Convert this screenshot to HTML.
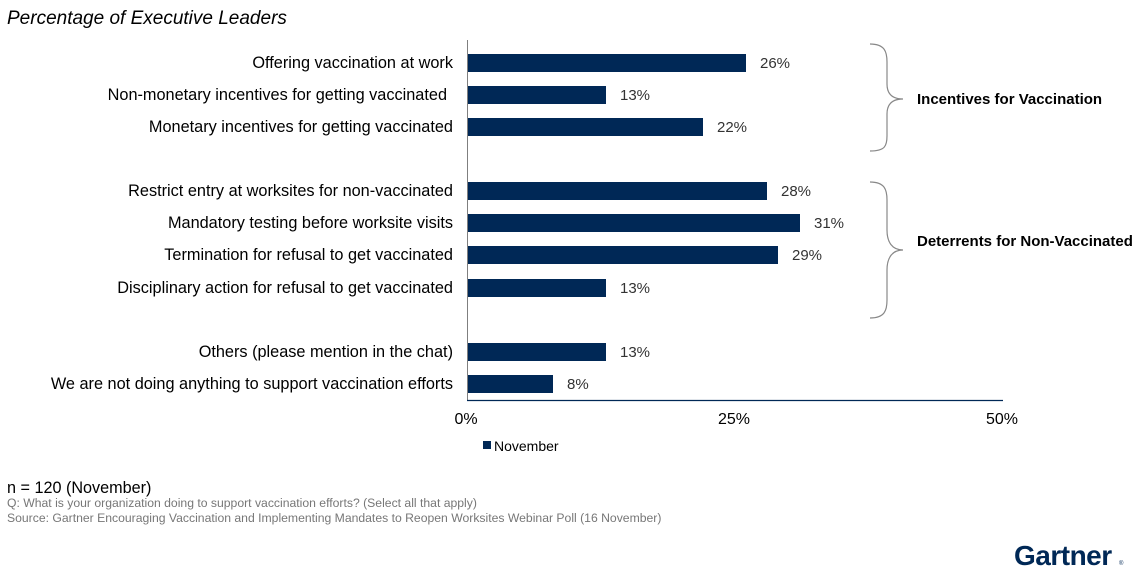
<!DOCTYPE html>
<html><head><meta charset="utf-8"><style>
html,body{margin:0;padding:0;background:#fff;}
svg{display:block;font-family:"Liberation Sans",Arial,sans-serif;}
</style></head><body>
<svg width="1146" height="578" viewBox="0 0 1146 578" xmlns="http://www.w3.org/2000/svg">
<text x="7" y="24" font-size="19" font-style="italic" fill="#000">Percentage of Executive Leaders</text>
<g font-size="16.3" fill="#000" text-anchor="end">
<text x="453" y="68">Offering vaccination at work</text>
<text x="447" y="100">Non-monetary incentives for getting vaccinated</text>
<text x="453" y="132">Monetary incentives for getting vaccinated</text>
<text x="453" y="196">Restrict entry at worksites for non-vaccinated</text>
<text x="453" y="228">Mandatory testing before worksite visits</text>
<text x="453" y="260">Termination for refusal to get vaccinated</text>
<text x="453" y="293">Disciplinary action for refusal to get vaccinated</text>
<text x="453" y="357">Others (please mention in the chat)</text>
<text x="453" y="389">We are not doing anything to support vaccination efforts</text>
</g>
<g fill="#002856">
<rect x="467" y="54" width="279" height="18"/>
<rect x="467" y="86" width="139" height="18"/>
<rect x="467" y="118" width="236" height="18"/>
<rect x="467" y="182" width="300" height="18"/>
<rect x="467" y="214" width="333" height="18"/>
<rect x="467" y="246" width="311" height="18"/>
<rect x="467" y="279" width="139" height="18"/>
<rect x="467" y="343" width="139" height="18"/>
<rect x="467" y="375" width="86" height="18"/>
</g>
<g font-size="15" fill="#333">
<text x="760" y="68">26%</text>
<text x="620" y="100">13%</text>
<text x="717" y="132">22%</text>
<text x="781" y="196">28%</text>
<text x="814" y="228">31%</text>
<text x="792" y="260">29%</text>
<text x="620" y="293">13%</text>
<text x="620" y="357">13%</text>
<text x="567" y="389">8%</text>
</g>
<line x1="467.5" y1="40" x2="467.5" y2="400" stroke="#7f7f7f" stroke-width="1"/>
<line x1="467" y1="400.5" x2="1003" y2="400.5" stroke="#002856" stroke-width="1.2"/>
<g font-size="16" fill="#000" text-anchor="middle">
<text x="466" y="424">0%</text>
<text x="734" y="424">25%</text>
<text x="1002" y="424">50%</text>
</g>
<rect x="483" y="441" width="8" height="8" fill="#002856"/>
<text x="494" y="451" font-size="14" fill="#000">November</text>
<g fill="none" stroke="#888" stroke-width="1.2">
<path d="M870,44 C885,44 887,52 887,62 L887,84 C887,94 892,99 903,99 C892,99 887,104 887,114 L887,136 C887,146 885,151 870,151"/>
<path d="M870,182 C885,182 887,190 887,200 L887,230 C887,242 892,250 903,250 C892,250 887,258 887,270 L887,300 C887,310 885,318 870,318"/>
</g>
<g font-size="15" font-weight="bold" fill="#000">
<text x="917" y="104">Incentives for Vaccination</text>
<text x="917" y="246">Deterrents for Non-Vaccinated</text>
</g>
<text x="7" y="493" font-size="16.2" fill="#000">n = 120 (November)</text>
<text x="7" y="507" font-size="12.2" fill="#777">Q: What is your organization doing to support vaccination efforts? (Select all that apply)</text>
<text x="7" y="522" font-size="12.2" fill="#777">Source: Gartner Encouraging Vaccination and Implementing Mandates to Reopen Worksites Webinar Poll (16 November)</text>
<text x="1014" y="565" font-size="28" font-weight="bold" fill="#002856" letter-spacing="-0.5">Gartner</text>
<text x="1119" y="565" font-size="6" fill="#002856">®</text>
</svg>
</body></html>
